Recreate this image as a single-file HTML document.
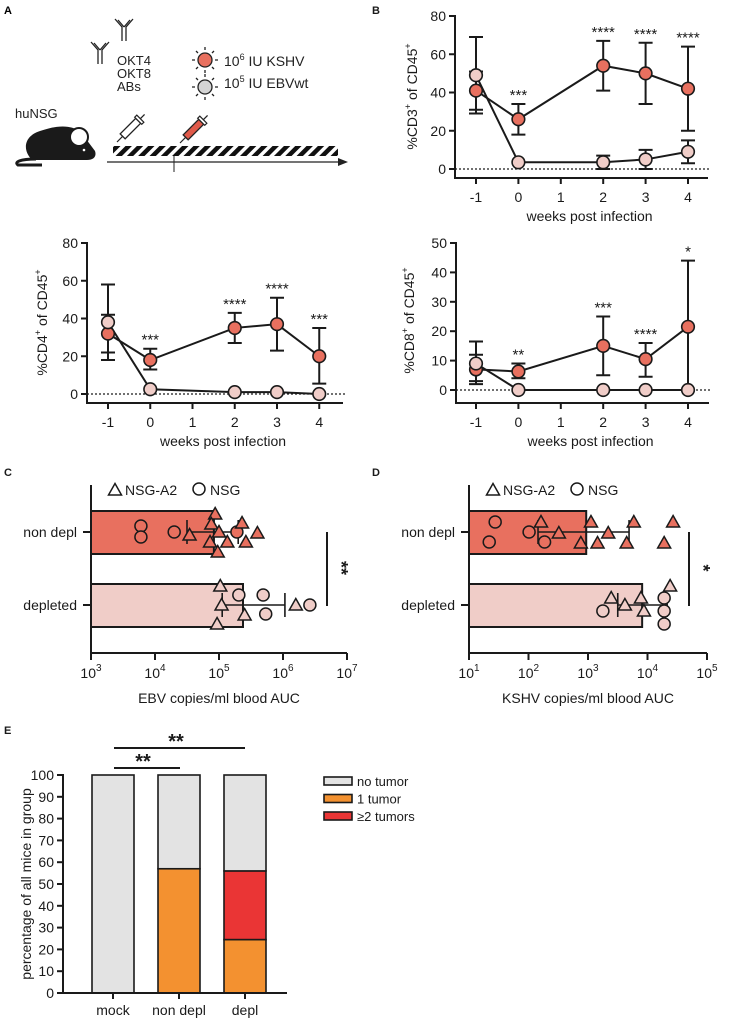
<!DOCTYPE html>
<html><head><meta charset="utf-8">
<style>
html,body{margin:0;padding:0;background:#fff;}
svg{display:block;font-family:"Liberation Sans",Arial,sans-serif;}
</style></head>
<body>
<svg id="fig" width="735" height="1020" viewBox="0 0 735 1020" xmlns="http://www.w3.org/2000/svg">
<defs>
<pattern id="hatch" patternUnits="userSpaceOnUse" width="8" height="8" patternTransform="rotate(45)">
<rect width="8" height="8" fill="#fff"/><rect width="4.5" height="8" fill="#111"/>
</pattern>
</defs>
<!-- Panel A schematic -->
<g>
<text x="4" y="14" font-size="11" font-weight="bold">A</text>
<g stroke="#222" stroke-width="1.3" fill="none">
<path d="M98,64 V50 L91,42 M102,64 V50 L109,42 M100,50 L94,43 M100,50 L106,43"/>
</g>
<g stroke="#222" stroke-width="1.3" fill="none">
<path d="M122,41 V27 L115,19 M126,41 V27 L133,19 M124,27 L118,20 M124,27 L130,20"/>
</g>
<text x="117" y="65" font-size="13" fill="#222">OKT4</text>
<text x="117" y="78" font-size="13" fill="#222">OKT8</text>
<text x="117" y="91" font-size="13" fill="#222">ABs</text>
<g stroke="#222" stroke-width="1.3">
<path d="M205,50 v-3 M205,70 v3 M195,60 h-3 M215,60 h3 M198,53 l-2,-2 M212,53 l2,-2 M198,67 l-2,2 M212,67 l2,2"/>
<circle cx="205" cy="60" r="7" fill="#e8705f"/>
</g>
<g stroke="#222" stroke-width="1.3">
<path d="M205,77 v-3 M205,97 v3 M195,87 h-3 M215,87 h3 M198,80 l-2,-2 M212,80 l2,-2 M198,94 l-2,2 M212,94 l2,2"/>
<circle cx="205" cy="87" r="7" fill="#d4d4d4"/>
</g>
<text x="224" y="66" font-size="14" fill="#222">10<tspan font-size="9" dy="-6">6</tspan><tspan dy="6"> IU KSHV</tspan></text>
<text x="224" y="88" font-size="14" fill="#222">10<tspan font-size="9" dy="-6">5</tspan><tspan dy="6"> IU EBVwt</tspan></text>
<text x="15" y="118" font-size="13" fill="#222">huNSG</text>
<g>
<path d="M32,160 C22,150 24,136 40,131 C55,126 68,124 80,131 L95,151 C97,157 93,160 87,160 Z" fill="#1a1a1a"/>
<path d="M36,159 C20,159 14,162 18,165 L42,165" stroke="#1a1a1a" stroke-width="3" fill="none"/>
<circle cx="79" cy="137" r="9" fill="#fff" stroke="#1a1a1a" stroke-width="2"/>
<circle cx="84" cy="150" r="1.3" fill="#fff"/>
</g>
<g transform="translate(117,142) rotate(-45)">
<line x1="0" y1="0" x2="8" y2="0" stroke="#222" stroke-width="1.2"/>
<rect x="8" y="-3.5" width="22" height="7" fill="#fff" stroke="#222" stroke-width="1.3"/>
<rect x="30" y="-5" width="3" height="10" fill="#fff" stroke="#222" stroke-width="1.2"/>
<line x1="33" y1="0" x2="39" y2="0" stroke="#222" stroke-width="1.3"/>
</g>
<g transform="translate(180,143) rotate(-45)">
<line x1="0" y1="0" x2="8" y2="0" stroke="#222" stroke-width="1.2"/>
<rect x="8" y="-3.5" width="22" height="7" fill="#e05a4a" stroke="#222" stroke-width="1.3"/>
<rect x="30" y="-5" width="3" height="10" fill="#fff" stroke="#222" stroke-width="1.2"/>
<line x1="33" y1="0" x2="39" y2="0" stroke="#222" stroke-width="1.3"/>
</g>
<rect x="113" y="146" width="225" height="10" fill="url(#hatch)"/>
<line x1="107" y1="162" x2="340" y2="162" stroke="#222" stroke-width="1.3"/>
<path d="M338,158 L348,162 L338,166 Z" fill="#222"/>
<line x1="174" y1="156" x2="174" y2="172" stroke="#222" stroke-width="1"/>
</g>
<g id="charts"></g>
</svg>
<script>
// ---------- Panel B line chart data ----------
const weeks = [-1, 0, 2, 3, 4];
const weekTicks = [-1, 0, 1, 2, 3, 4];
const cd3Ticks = [0, 20, 40, 60, 80];
const cd3Red = [41, 26, 54, 50, 42];
const cd3RedLo = [29, 18, 41, 34, 20];
const cd3RedHi = [69, 34, 67, 66, 64];
const cd3Pink = [49, 3.5, 3.5, 5, 9];
const cd3PinkLo = [31, 3.5, 0, 0, 3];
const cd3PinkHi = [51, 3.5, 7, 10, 15];
const cd3Stars = ['', '***', '****', '****', '****'];

const cd4Ticks = [0, 20, 40, 60, 80];
const cd4Red = [32, 18, 35, 37, 20];
const cd4RedLo = [22, 13, 27, 23, 5.5];
const cd4RedHi = [42, 24, 43, 51, 35];
const cd4Pink = [38, 2.5, 1, 1, 0];
const cd4PinkLo = [18, 2.5, 1, 1, 0];
const cd4PinkHi = [58, 2.5, 1, 1, 0];
const cd4Stars = ['', '***', '****', '****', '***'];

const cd8Ticks = [0, 10, 20, 30, 40, 50];
const cd8Red = [7, 6.3, 15, 10.5, 21.5];
const cd8RedLo = [2, 4, 5, 4.5, 0];
const cd8RedHi = [12, 9, 25, 16, 44];
const cd8Pink = [9, 0, 0, 0, 0];
const cd8PinkLo = [3, 0, 0, 0, 0];
const cd8PinkHi = [16.5, 0, 0, 0, 0];
const cd8Stars = ['', '**', '***', '****', '*'];

// ---------- Panel C / D (log10 values) ----------
const groups = ['non depl', 'depleted'];
const ebvBarLog = [4.92, 5.375];
const ebvErrLo = [4.5, 5.05];
const ebvErrHi = [5.3, 6.03];
const ebvNonTri = [4.94, 4.88, 5.36, 4.54, 5.0, 5.6, 4.86, 5.13, 5.42, 4.98];
const ebvNonCirc = [3.78, 3.78, 4.30, 5.28];
const ebvDepTri = [5.02, 5.04, 5.40, 4.97, 6.2];
const ebvDepCirc = [5.31, 5.69, 5.73, 6.42];
const logTicksC = [3, 4, 5, 6, 7];

const kshvBarLog = [2.97, 3.91];
const kshvErrLo = [2.16, 3.50];
const kshvErrHi = [3.69, 4.33];
const kshvNonTri = [2.21, 3.05, 3.77, 4.43, 2.51, 3.34, 2.88, 3.16, 3.65, 4.28];
const kshvNonCirc = [1.44, 1.34, 2.01, 2.27];
const kshvDepTri = [3.39, 3.62, 3.89, 3.94, 4.38];
const kshvDepCirc = [3.25, 4.28, 4.28, 4.28];
const logTicksD = [1, 2, 3, 4, 5];

// ---------- Panel E ----------
const eCats = ['mock', 'non depl', 'depl'];
const eNoTumor = [100, 43, 44];
const eOneTumor = [0, 57, 24.5];
const eTwoTumor = [0, 0, 31.5];
const eTicks = [0, 10, 20, 30, 40, 50, 60, 70, 80, 90, 100];
const eLegend = ['no tumor', '1 tumor', '≥2 tumors'];

// layout-only jitter (px), not data
const jitNonTriC = [-18, -8, -9, 3, 0, 1, 10, 10, 10, 20];
const jitNonCircC = [-6, 5, 0, 0];
const jitDepTriC = [-19, 0, 10, 19, 0];
const jitDepCircC = [-10, -10, 9, 0];
const jitNonTriD = [-10, -10, -10, -10, 1, 1, 11, 11, 11, 11];
const jitNonCircD = [-10, 10, 0, 10];
const jitDepTriD = [-7, 0, -7, 6, -19];
const jitDepCircD = [6, -7, 6, 19];

const NS = 'http://www.w3.org/2000/svg';
const root = document.getElementById('charts');
function mk(parent, tag, attrs, name, inter) {
  const el = document.createElementNS(NS, tag);
  for (const k in attrs) el.setAttribute(k, attrs[k]);
  
  
  parent.appendChild(el);
  return el;
}
function txt(parent, x, y, s, size, anchor, name, extra) {
  const t = mk(parent, 'text', Object.assign({x: x, y: y, 'font-size': size, 'text-anchor': anchor || 'start', fill: '#1a1a1a'}, extra || {}), name, false);
  t.textContent = s;
  return t;
}
const RED = '#e8705f', PINK = '#f0cdc8';

function lineChart(o) {
  const g = mk(root, 'g', {}, o.name, false);
  const xs = w => o.xm1 + (w + 1) * o.step;
  const ys = v => o.y0 - v * (o.y0 - o.yTop) / o.yMax;
  // axes
  mk(g, 'line', {x1: o.ax, y1: o.yTop - 1, x2: o.ax, y2: o.axY, stroke: '#1a1a1a', 'stroke-width': 2}, 'y-axis', false);
  mk(g, 'line', {x1: o.ax - 1, y1: o.axY, x2: o.axEnd, y2: o.axY, stroke: '#1a1a1a', 'stroke-width': 2}, 'x-axis', false);
  mk(g, 'line', {x1: o.ax, y1: ys(0), x2: o.axEnd + 2, y2: ys(0), stroke: '#1a1a1a', 'stroke-width': 1.2, 'stroke-dasharray': '2,2'}, 'zero-reference-line', false);
  o.yTicks.forEach(v => {
    mk(g, 'line', {x1: o.ax - 6, y1: ys(v), x2: o.ax, y2: ys(v), stroke: '#1a1a1a', 'stroke-width': 2}, 'y-tick', false);
    txt(g, o.ax - 9, ys(v) + 5, String(v), 14, 'end', 'y-tick-label');
  });
  weekTicks.forEach(w => {
    mk(g, 'line', {x1: xs(w), y1: o.axY, x2: xs(w), y2: o.axY + 6, stroke: '#1a1a1a', 'stroke-width': 2}, 'x-tick', false);
    txt(g, xs(w), o.axY + 24, String(w), 14, 'middle', 'x-tick-label');
  });
  txt(g, (o.ax + o.axEnd) / 2 + 8, o.axY + 43, 'weeks post infection', 14, 'middle', 'x-axis-title');
  const yl = mk(g, 'text', {x: 0, y: 0, 'font-size': 14, 'text-anchor': 'middle', fill: '#1a1a1a', transform: 'translate(' + o.ylx + ',' + ((o.yTop + o.y0) / 2 + 4) + ') rotate(-90)'}, 'y-axis-title', false);
  yl.innerHTML = '%' + o.ylab + '<tspan font-size="9" dy="-6">+</tspan><tspan dy="6"> of CD45</tspan><tspan font-size="9" dy="-6">+</tspan>';
  const series = [
    {v: o.red, lo: o.redLo, hi: o.redHi, fill: RED, n: 'kshv-series'},
    {v: o.pink, lo: o.pinkLo, hi: o.pinkHi, fill: PINK, n: 'ebv-series'}
  ];
  series.forEach(s => {
    const pts = weeks.map((w, i) => xs(w) + ',' + ys(s.v[i])).join(' ');
    mk(g, 'polyline', {points: pts, fill: 'none', stroke: '#1a1a1a', 'stroke-width': 2}, s.n + '-line', false);
    weeks.forEach((w, i) => {
      if (s.hi[i] - s.lo[i] > 0.5) {
        const x = xs(w);
        mk(g, 'path', {d: 'M' + x + ',' + ys(s.lo[i]) + 'V' + ys(s.hi[i]) + 'M' + (x - 7) + ',' + ys(s.lo[i]) + 'h14M' + (x - 7) + ',' + ys(s.hi[i]) + 'h14', stroke: '#1a1a1a', 'stroke-width': 2, fill: 'none'}, s.n + '-error-bar', false);
      }
    });
  });
  series.forEach(s => {
    weeks.forEach((w, i) => {
      mk(g, 'circle', {cx: xs(w), cy: ys(s.v[i]), r: 6.3, fill: s.fill, stroke: '#1a1a1a', 'stroke-width': 1.6}, s.n + '-point', false);
    });
  });
  weeks.forEach((w, i) => {
    if (o.stars[i]) {
      const top = Math.max(o.redHi[i], o.pinkHi[i]);
      txt(g, xs(w), ys(top) - 4, o.stars[i], 15, 'middle', 'significance-stars');
    }
  });
}

txt(root, 372, 14, 'B', 11, 'start', 'panel-label-b', {'font-weight': 'bold'});
lineChart({name: 'cd3-chart', xm1: 476, step: 42.4, ax: 455, axEnd: 708, axY: 178, yTop: 16, y0: 169, yMax: 80, yTicks: cd3Ticks, ylx: 417, ylab: 'CD3',
  red: cd3Red, redLo: cd3RedLo, redHi: cd3RedHi, pink: cd3Pink, pinkLo: cd3PinkLo, pinkHi: cd3PinkHi, stars: cd3Stars});
lineChart({name: 'cd4-chart', xm1: 108, step: 42.25, ax: 87, axEnd: 343, axY: 403, yTop: 243, y0: 394, yMax: 80, yTicks: cd4Ticks, ylx: 47, ylab: 'CD4',
  red: cd4Red, redLo: cd4RedLo, redHi: cd4RedHi, pink: cd4Pink, pinkLo: cd4PinkLo, pinkHi: cd4PinkHi, stars: cd4Stars});
lineChart({name: 'cd8-chart', xm1: 476, step: 42.4, ax: 456, axEnd: 709, axY: 403, yTop: 243, y0: 390, yMax: 50, yTicks: cd8Ticks, ylx: 414, ylab: 'CD8',
  red: cd8Red, redLo: cd8RedLo, redHi: cd8RedHi, pink: cd8Pink, pinkLo: cd8PinkLo, pinkHi: cd8PinkHi, stars: cd8Stars});

function tri(g, x, y, fill, name) {
  mk(g, 'path', {d: 'M' + x + ',' + (y - 6.5) + 'L' + (x + 6.5) + ',' + (y + 5) + 'L' + (x - 6.5) + ',' + (y + 5) + 'Z', fill: fill, stroke: '#1a1a1a', 'stroke-width': 1.5}, name, false);
}
function circ(g, x, y, fill, name) {
  mk(g, 'circle', {cx: x, cy: y, r: 6, fill: fill, stroke: '#1a1a1a', 'stroke-width': 1.5}, name, false);
}

function hbarChart(o) {
  const g = mk(root, 'g', {}, o.name, false);
  const xs = l => o.ax + (l - o.ticks[0]) * o.dec;
  const cy = [532, 605];
  const fills = [RED, PINK];
  // bars
  o.bars.forEach((b, i) => {
    mk(g, 'rect', {x: o.ax, y: cy[i] - 21, width: xs(b) - o.ax, height: 43, fill: fills[i], stroke: '#1a1a1a', 'stroke-width': 2}, 'bar-' + groups[i].replace(' ', '-'), false);
  });
  // axes
  mk(g, 'line', {x1: o.ax, y1: 485, x2: o.ax, y2: 653, stroke: '#1a1a1a', 'stroke-width': 2}, 'y-axis', false);
  mk(g, 'line', {x1: o.ax - 1, y1: 653, x2: xs(o.ticks[o.ticks.length - 1]), y2: 653, stroke: '#1a1a1a', 'stroke-width': 2}, 'x-axis', false);
  o.ticks.forEach(t => {
    const x = xs(t);
    mk(g, 'line', {x1: x, y1: 653, x2: x, y2: 660, stroke: '#1a1a1a', 'stroke-width': 2}, 'x-tick', false);
    const tl = mk(g, 'text', {x: x, y: 678, 'font-size': 14, 'text-anchor': 'middle', fill: '#1a1a1a'}, 'x-tick-label', false);
    tl.innerHTML = '10<tspan font-size="10" dy="-7">' + t + '</tspan>';
  });
  txt(g, (o.ax + xs(o.ticks[o.ticks.length - 1])) / 2, 703, o.xlab, 14, 'middle', 'x-axis-title');
  groups.forEach((c, i) => {
    mk(g, 'line', {x1: o.ax - 8, y1: cy[i], x2: o.ax, y2: cy[i], stroke: '#1a1a1a', 'stroke-width': 2}, 'y-tick', false);
    txt(g, o.ax - 14, cy[i] + 5, c, 14, 'end', 'category-label');
  });
  // error bars
  groups.forEach((c, i) => {
    const a = xs(o.lo[i]), b = xs(o.hi[i]), m = xs(o.bars[i]);
    mk(g, 'path', {d: 'M' + a + ',' + cy[i] + 'H' + b + 'M' + a + ',' + (cy[i] - 12) + 'v24M' + b + ',' + (cy[i] - 12) + 'v24M' + m + ',' + (cy[i] - 12) + 'v24', stroke: '#1a1a1a', 'stroke-width': 1.6, fill: 'none'}, 'error-bar', false);
  });
  // points
  o.nonCirc.forEach((v, i) => circ(g, xs(v), cy[0] + o.jNC[i], RED, 'nsg-point'));
  o.nonTri.forEach((v, i) => tri(g, xs(v), cy[0] + o.jNT[i], RED, 'nsg-a2-point'));
  o.depCirc.forEach((v, i) => circ(g, xs(v), cy[1] + o.jDC[i], PINK, 'nsg-point'));
  o.depTri.forEach((v, i) => tri(g, xs(v), cy[1] + o.jDT[i], PINK, 'nsg-a2-point'));
  // legend
  tri(g, o.ax + 24, 490, '#fff', 'legend-triangle-marker');
  txt(g, o.ax + 34, 495, 'NSG-A2', 14, 'start', 'legend-nsg-a2');
  circ(g, o.ax + 108, 489, '#fff', 'legend-circle-marker');
  txt(g, o.ax + 119, 495, 'NSG', 14, 'start', 'legend-nsg');
  // significance
  mk(g, 'line', {x1: o.sigX, y1: 532, x2: o.sigX, y2: 606, stroke: '#1a1a1a', 'stroke-width': 2}, 'significance-bracket', false);
  const st = mk(g, 'text', {x: 0, y: 0, 'font-size': 18, 'font-weight': 'bold', 'text-anchor': 'middle', fill: '#1a1a1a', transform: 'translate(' + (o.sigX + 8) + ',568) rotate(90)'}, 'significance-stars', false);
  st.textContent = o.stars;
}

txt(root, 4, 476, 'C', 11, 'start', 'panel-label-c', {'font-weight': 'bold'});
hbarChart({name: 'ebv-auc-chart', ax: 91, dec: 64, ticks: logTicksC, bars: ebvBarLog, lo: ebvErrLo, hi: ebvErrHi,
  nonTri: ebvNonTri, nonCirc: ebvNonCirc, depTri: ebvDepTri, depCirc: ebvDepCirc,
  jNT: jitNonTriC, jNC: jitNonCircC, jDT: jitDepTriC, jDC: jitDepCircC,
  xlab: 'EBV copies/ml blood AUC', sigX: 327, stars: '**'});
txt(root, 372, 476, 'D', 11, 'start', 'panel-label-d', {'font-weight': 'bold'});
hbarChart({name: 'kshv-auc-chart', ax: 469, dec: 59.5, ticks: logTicksD, bars: kshvBarLog, lo: kshvErrLo, hi: kshvErrHi,
  nonTri: kshvNonTri, nonCirc: kshvNonCirc, depTri: kshvDepTri, depCirc: kshvDepCirc,
  jNT: jitNonTriD, jNC: jitNonCircD, jDT: jitDepTriD, jDC: jitDepCircD,
  xlab: 'KSHV copies/ml blood AUC', sigX: 689, stars: '*'});

// ---------- Panel E ----------
(function () {
  const g = mk(root, 'g', {}, 'tumor-stacked-bar-chart', false);
  txt(g, 4, 734, 'E', 11, 'start', 'panel-label-e', {'font-weight': 'bold'});
  const y0 = 993, yT = 775;
  const ys = v => y0 - v * (y0 - yT) / 100;
  const cx = [113, 179, 245];
  const bw = 42;
  const cols = ['#e3e3e3', '#f39130', '#ea3535'];
  eCats.forEach((c, i) => {
    const segs = [eOneTumor[i], eTwoTumor[i], eNoTumor[i]];
    const colOrder = [cols[1], cols[2], cols[0]];
    const names = ['one-tumor', 'two-plus-tumors', 'no-tumor'];
    let base = 0;
    segs.forEach((s, k) => {
      if (s > 0) {
        mk(g, 'rect', {x: cx[i] - bw / 2, y: ys(base + s), width: bw, height: ys(base) - ys(base + s), fill: colOrder[k], stroke: '#1a1a1a', 'stroke-width': 1.6}, 'bar-' + c.replace(' ', '-') + '-' + names[k], false);
      }
      base += s;
    });
  });
  mk(g, 'line', {x1: 63, y1: yT - 1, x2: 63, y2: y0, stroke: '#1a1a1a', 'stroke-width': 2}, 'y-axis', false);
  mk(g, 'line', {x1: 62, y1: y0, x2: 287, y2: y0, stroke: '#1a1a1a', 'stroke-width': 2}, 'x-axis', false);
  eTicks.forEach(v => {
    mk(g, 'line', {x1: 57, y1: ys(v), x2: 63, y2: ys(v), stroke: '#1a1a1a', 'stroke-width': 2}, 'y-tick', false);
    txt(g, 54, ys(v) + 5, String(v), 14, 'end', 'y-tick-label');
  });
  eCats.forEach((c, i) => {
    mk(g, 'line', {x1: cx[i], y1: y0, x2: cx[i], y2: y0 + 6, stroke: '#1a1a1a', 'stroke-width': 2}, 'x-tick', false);
    txt(g, cx[i], 1015, c, 14, 'middle', 'x-tick-label');
  });
  txt(g, 0, 0, 'percentage of all mice in group', 14, 'middle', 'y-axis-title', {transform: 'translate(31,884) rotate(-90)'});
  mk(g, 'line', {x1: 114, y1: 768, x2: 180, y2: 768, stroke: '#1a1a1a', 'stroke-width': 2}, 'significance-bracket-mock-nondepl', false);
  txt(g, 143, 768, '**', 20, 'middle', 'significance-stars', {'font-weight': 'bold'});
  mk(g, 'line', {x1: 114, y1: 748, x2: 245, y2: 748, stroke: '#1a1a1a', 'stroke-width': 2}, 'significance-bracket-mock-depl', false);
  txt(g, 176, 748, '**', 20, 'middle', 'significance-stars', {'font-weight': 'bold'});
  eLegend.forEach((l, k) => {
    const y = 781 + k * 17.5;
    mk(g, 'rect', {x: 324, y: y - 4, width: 28, height: 8, fill: cols[k], stroke: '#1a1a1a', 'stroke-width': 1.6}, 'legend-swatch', false);
    txt(g, 357, y + 5, l, 13, 'start', 'legend-entry');
  });
})();
</script>
</body></html>
